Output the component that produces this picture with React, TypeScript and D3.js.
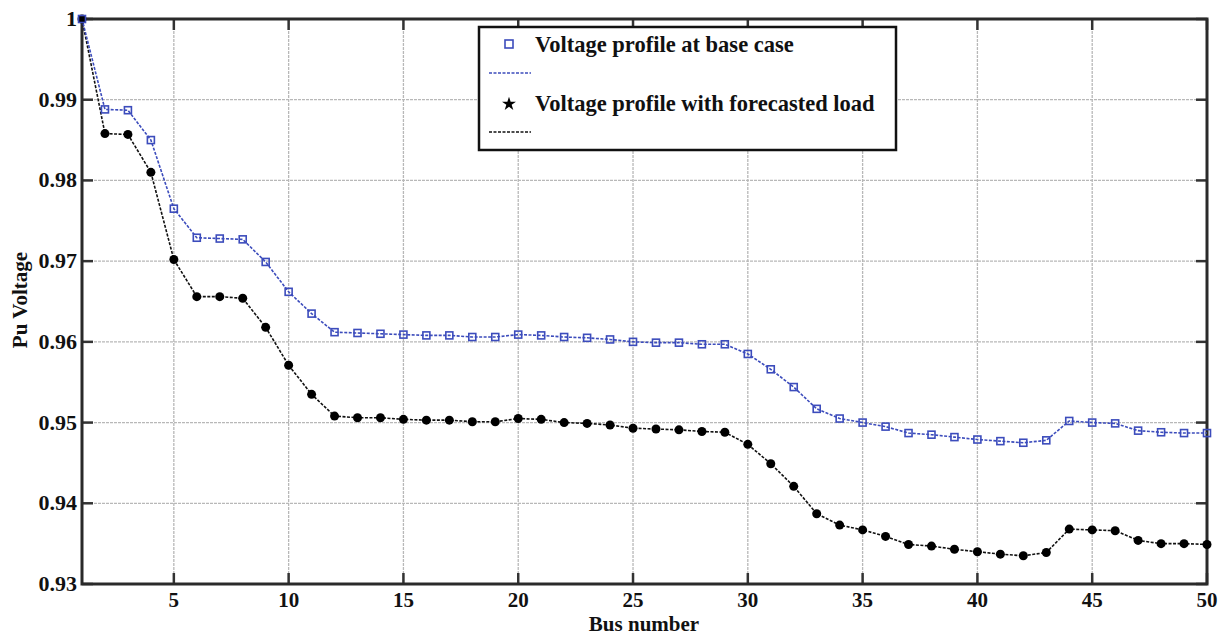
import React, { useEffect, useRef } from "react";
import * as d3 from "d3";

const buses: number[] = Array.from({ length: 50 }, (_, i) => i + 1);

const baseCase: number[] = [
  1.0, 0.9888, 0.9887, 0.985, 0.9765, 0.9729, 0.9728, 0.9727, 0.9699, 0.9662,
  0.9635, 0.9612, 0.9611, 0.961, 0.9609, 0.9608, 0.9608, 0.9606, 0.9606, 0.9609,
  0.9608, 0.9606, 0.9605, 0.9603, 0.96, 0.9599, 0.9599, 0.9597, 0.9597, 0.9585,
  0.9566, 0.9544, 0.9517, 0.9505, 0.95, 0.9495, 0.9487, 0.9485, 0.9482, 0.9479,
  0.9477, 0.9475, 0.9478, 0.9502, 0.95, 0.9499, 0.949, 0.9488, 0.9487, 0.9487,
];

const forecasted: number[] = [
  1.0, 0.9858, 0.9857, 0.981, 0.9702, 0.9656, 0.9656, 0.9654, 0.9618, 0.9571,
  0.9535, 0.9508, 0.9506, 0.9506, 0.9504, 0.9503, 0.9503, 0.9501, 0.9501, 0.9505,
  0.9504, 0.95, 0.9499, 0.9497, 0.9493, 0.9492, 0.9491, 0.9489, 0.9488, 0.9473,
  0.9449, 0.9421, 0.9387, 0.9373, 0.9367, 0.9359, 0.9349, 0.9347, 0.9343, 0.934,
  0.9337, 0.9335, 0.9339, 0.9368, 0.9367, 0.9366, 0.9354, 0.935, 0.935, 0.9349,
];

const xTicks: number[] = [5, 10, 15, 20, 25, 30, 35, 40, 45, 50];
const yTicks: number[] = [0.93, 0.94, 0.95, 0.96, 0.97, 0.98, 0.99, 1.0];
const yTickLabels: string[] = ["0.93", "0.94", "0.95", "0.96", "0.97", "0.98", "0.99", "1"];
const legendLabels: string[] = ["Voltage profile at base case", "Voltage profile with forecasted load"];

const W = 1223;
const H = 636;
const M = { left: 82, right: 16, top: 19, bottom: 52 };
const BLUE = "#3c4cbc";
const FONT = "'Liberation Serif', 'Times New Roman', serif";

export default function App() {
  const ref = useRef<SVGSVGElement>(null);

  useEffect(() => {
    const svg = d3.select(ref.current);
    svg.selectAll("*").remove();

    const x = d3.scaleLinear().domain([1, 50]).range([M.left, W - M.right]);
    const y = d3.scaleLinear().domain([0.93, 1.0]).range([H - M.bottom, M.top]);
    const x0 = x.range()[0], x1 = x.range()[1];
    const y0 = y.range()[0], y1 = y.range()[1];

    svg.append("rect").attr("width", W).attr("height", H).attr("fill", "#fff");

    // grid
    const grid = svg.append("g");
    xTicks.filter((t) => t < 50).forEach((t) => {
      grid.append("line").attr("x1", x(t)).attr("x2", x(t)).attr("y1", y1).attr("y2", y0)
        .attr("stroke", "#b8b8b8").attr("stroke-width", 1.3).attr("stroke-dasharray", "3,1");
    });
    yTicks.filter((t) => t > 0.93 && t < 1.0).forEach((t) => {
      grid.append("line").attr("x1", x0).attr("x2", x1).attr("y1", y(t)).attr("y2", y(t))
        .attr("stroke", "#b8b8b8").attr("stroke-width", 1.3).attr("stroke-dasharray", "3,1");
    });

    // ticks (inward) on all sides
    const tk = svg.append("g").attr("stroke", "#333").attr("stroke-width", 2.5);
    const tl = 11;
    xTicks.forEach((t) => {
      tk.append("line").attr("x1", x(t)).attr("x2", x(t)).attr("y1", y0).attr("y2", y0 - tl);
      tk.append("line").attr("x1", x(t)).attr("x2", x(t)).attr("y1", y1).attr("y2", y1 + tl);
    });
    yTicks.forEach((t) => {
      tk.append("line").attr("x1", x0).attr("x2", x0 + tl).attr("y1", y(t)).attr("y2", y(t));
      tk.append("line").attr("x1", x1).attr("x2", x1 - tl).attr("y1", y(t)).attr("y2", y(t));
    });

    // frame
    svg.append("rect").attr("x", x0).attr("y", y1).attr("width", x1 - x0).attr("height", y0 - y1)
      .attr("fill", "none").attr("stroke", "#2a2a2a").attr("stroke-width", 3);

    // tick labels
    const lab = svg.append("g").attr("font-family", FONT).attr("font-weight", "bold")
      .attr("fill", "#111");
    xTicks.forEach((t) => {
      lab.append("text").attr("x", x(t)).attr("y", y0 + 23).attr("font-size", 21)
        .attr("text-anchor", "middle").text(String(t));
    });
    yTicks.forEach((t, i) => {
      lab.append("text").attr("x", x0 - 5).attr("y", y(t) + 7).attr("font-size", 22)
        .attr("text-anchor", "end").text(yTickLabels[i]);
    });

    // axis titles
    svg.append("text").attr("x", 644).attr("y", 631).attr("text-anchor", "middle")
      .attr("font-family", FONT).attr("font-weight", "bold").attr("font-size", 21).attr("fill", "#111")
      .text("Bus number");
    svg.append("text").attr("transform", `translate(27, 300) rotate(-90)`)
      .attr("text-anchor", "middle").attr("font-family", FONT).attr("font-weight", "bold")
      .attr("font-size", 21).attr("fill", "#111").text("Pu Voltage");

    // lines
    const line = d3.line<number>().x((_, i) => x(buses[i])).y((d) => y(d));
    svg.append("path").datum(forecasted).attr("d", line).attr("fill", "none")
      .attr("stroke", "#111").attr("stroke-width", 1.6).attr("stroke-dasharray", "3,1.5");
    svg.append("path").datum(baseCase).attr("d", line).attr("fill", "none")
      .attr("stroke", BLUE).attr("stroke-width", 1.6).attr("stroke-dasharray", "3,1.5");

    // markers
    svg.append("g").selectAll("circle").data(forecasted).join("circle")
      .attr("cx", (_, i) => x(buses[i])).attr("cy", (d) => y(d)).attr("r", 4.5).attr("fill", "#000");
    const s = 7;
    svg.append("g").selectAll("rect").data(baseCase).join("rect")
      .attr("x", (_, i) => x(buses[i]) - s / 2).attr("y", (d) => y(d) - s / 2)
      .attr("width", s).attr("height", s).attr("fill", "none").attr("stroke", BLUE).attr("stroke-width", 1.6);

    // legend
    const lg = svg.append("g");
    lg.append("rect").attr("x", 479).attr("y", 27).attr("width", 417).attr("height", 123)
      .attr("fill", "#fff").attr("stroke", "#111").attr("stroke-width", 2.5);
    lg.append("rect").attr("x", 505).attr("y", 40).attr("width", 8).attr("height", 8)
      .attr("fill", "none").attr("stroke", BLUE).attr("stroke-width", 1.6);
    lg.append("line").attr("x1", 489).attr("x2", 531).attr("y1", 73).attr("y2", 73)
      .attr("stroke", BLUE).attr("stroke-width", 1.6).attr("stroke-dasharray", "3,1.5");
    lg.append("path").attr("d", d3.symbol(d3.symbolStar, 60)()).attr("transform", "translate(509,104)")
      .attr("fill", "#000");
    lg.append("line").attr("x1", 489).attr("x2", 531).attr("y1", 132).attr("y2", 132)
      .attr("stroke", "#111").attr("stroke-width", 1.6).attr("stroke-dasharray", "3,1.5");
    lg.append("text").attr("x", 535).attr("y", 52).attr("font-family", FONT).attr("font-weight", "bold")
      .attr("font-size", 22.5).attr("fill", "#111").text(legendLabels[0]);
    lg.append("text").attr("x", 535).attr("y", 111).attr("font-family", FONT).attr("font-weight", "bold")
      .attr("font-size", 22.5).attr("fill", "#111").text(legendLabels[1]);
  }, []);

  return (
    <div style={{ position: "absolute", left: 0, top: 0 }}>
      <svg ref={ref} width={W} height={H} style={{ display: "block" }} />
    </div>
  );
}
